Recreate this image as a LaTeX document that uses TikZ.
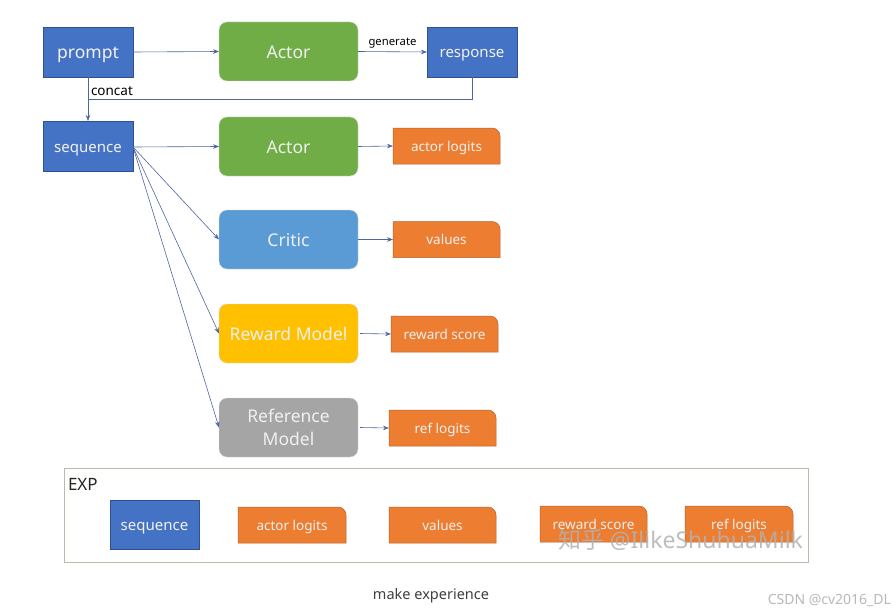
\documentclass[tikz,border=0pt]{standalone}
\usepackage{fontspec}
\setmainfont{Noto Sans}
\newfontfamily\cjkfont{Noto Sans CJK SC}
\usetikzlibrary{arrows.meta,backgrounds}
\definecolor{bluebox}{HTML}{4472C4}
\definecolor{blueedge}{HTML}{2F528F}
\definecolor{greenbox}{HTML}{70AD47}
\definecolor{criticbox}{HTML}{5B9BD5}
\definecolor{yellowbox}{HTML}{FFC000}
\definecolor{graybox}{HTML}{A5A5A5}
\definecolor{orangebox}{HTML}{ED7D31}
\definecolor{orangeedge}{HTML}{B8612A}
\definecolor{arrowc}{HTML}{4F67A0}
\definecolor{expedge}{HTML}{B5BEAA}
\begin{document}
\begin{tikzpicture}[x=1pt,y=-1pt,
  every node/.style={inner sep=0pt,outer sep=0pt},
  fbig/.style={font=\fontsize{17.5}{23}\selectfont,text height=14pt,text depth=0pt},
  fmid/.style={font=\fontsize{15}{18}\selectfont,text height=12pt,text depth=0pt},
  fsmall/.style={font=\fontsize{13.5}{16}\selectfont,text height=10.8pt,text depth=0pt},
  datbox/.style={fmid,fill=bluebox,draw=blueedge,line width=0.6pt,text=white!95!black,minimum width=90pt,minimum height=50pt},
  modbox/.style={rounded corners=8pt,text=white!94!black,minimum width=139pt,minimum height=59pt,align=center,draw=white!85!black,line width=0.4pt},
  outbox/.style={fsmall,text=white!94!black,minimum width=107pt,minimum height=36pt},
  arr/.style={draw=arrowc,line width=0.6pt,-{Stealth[length=6pt,width=4.5pt]}},
  lnk/.style={draw=arrowc,line width=0.6pt}
]
\useasboundingbox (0,0) rectangle (896,615);

% top row
\node[datbox,fbig] (prompt) at (88,52) {prompt};
\node[modbox,fbig,fill=greenbox] (actorA) at (288.5,51.5) {Actor};
\node[datbox] (response) at (472,52) {response};

% sequence and models
\node[datbox] (seq) at (88,146) {sequence};
\node[modbox,fbig,fill=greenbox] (actorB) at (288.5,146.5) {Actor};
\node[modbox,fbig,fill=criticbox] (critic) at (288.5,239.5) {Critic};
\node[modbox,fbig,fill=yellowbox] (reward) at (288.5,333.5) {Reward Model};
\node[modbox,font=\fontsize{17.5}{23}\selectfont,fill=graybox] (refm) at (288.5,427.5) {Reference\\Model};

% outputs
\node[outbox] (alog) at (446.5,146) {actor logits};
\node[outbox] (vals) at (446.5,239.5) {values};
\node[outbox] (rsc) at (444.5,334) {reward score};
\node[outbox] (rlog) at (442.5,428) {ref logits};

% EXP panel
\draw[expedge,line width=1pt] (64,468) rectangle (808,562);
\node[anchor=west,font=\fontsize{17}{20}\selectfont,text=black!85] (exp) at (68,484) {EXP};
\node[datbox,minimum width=89pt,minimum height=49pt] (seqB) at (154.5,524.5) {sequence};
\node[outbox,minimum width=108pt] (alogB) at (292,525) {actor logits};
\node[outbox] (valsB) at (442.5,525) {values};
\node[outbox] (rscB) at (593.5,524) {reward score};
\node[outbox,minimum width=108pt] (rlogB) at (739,524) {ref logits};

% orange shapes with one rounded corner, behind their texts
\begin{scope}[on background layer]
\fill[white] (0,0) rectangle (896,615);
\foreach \n in {alog,vals,rsc,rlog,alogB,valsB,rscB,rlogB}{
  \filldraw[fill=orangebox,draw=orangeedge,line width=0.5pt]
    (\n.south west) -- (\n.north west) -- ([xshift=-8pt]\n.north east)
    arc[start angle=90,end angle=0,radius=8pt] -- (\n.south east) -- cycle;
}
\end{scope}

% connectors
\draw[arr] (prompt.east) -- (actorA.west);
\draw[arr] (actorA.east) -- node[above=4pt,font=\fontsize{11.3}{13}\selectfont,text=black] (gen) {generate} (response.west);
\coordinate (cj) at (prompt.south |- 0,99);
\draw[lnk] (response.south) |- (cj);
\draw[arr] (prompt.south) -- (seq.north);
\node[anchor=west,font=\fontsize{13.5}{16}\selectfont,text=black] (concat) at (91,91) {concat};

\coordinate (so) at (133,147);
\draw[arr] (so) -- (actorB.west);
\draw[arr] (so) -- (critic.west);
\draw[arr] (so) -- (reward.west);
\draw[arr] (so) -- (refm.west);

\draw[arr] (actorB.east) -- (alog.west);
\draw[arr] (critic.east) -- (vals.west);
\draw[arr] ([xshift=2pt]reward.east) -- (rsc.west);
\draw[arr] ([xshift=2pt]refm.east) -- (rlog.west);

% captions
\node[font=\fontsize{14.5}{17}\selectfont,text=black!75] (cap) at (431,596) {make experience};
\node[anchor=east,font=\fontsize{14}{17}\selectfont,text=black!28] (csdn) at (891,600) {CSDN @cv2016\_DL};
\node[anchor=west,font=\fontsize{23}{26}\selectfont,text=black!30,opacity=0.85] (wm) at (558,540) {{\cjkfont 知乎} @IlikeShuhuaMilk};
\end{tikzpicture}
\end{document}
